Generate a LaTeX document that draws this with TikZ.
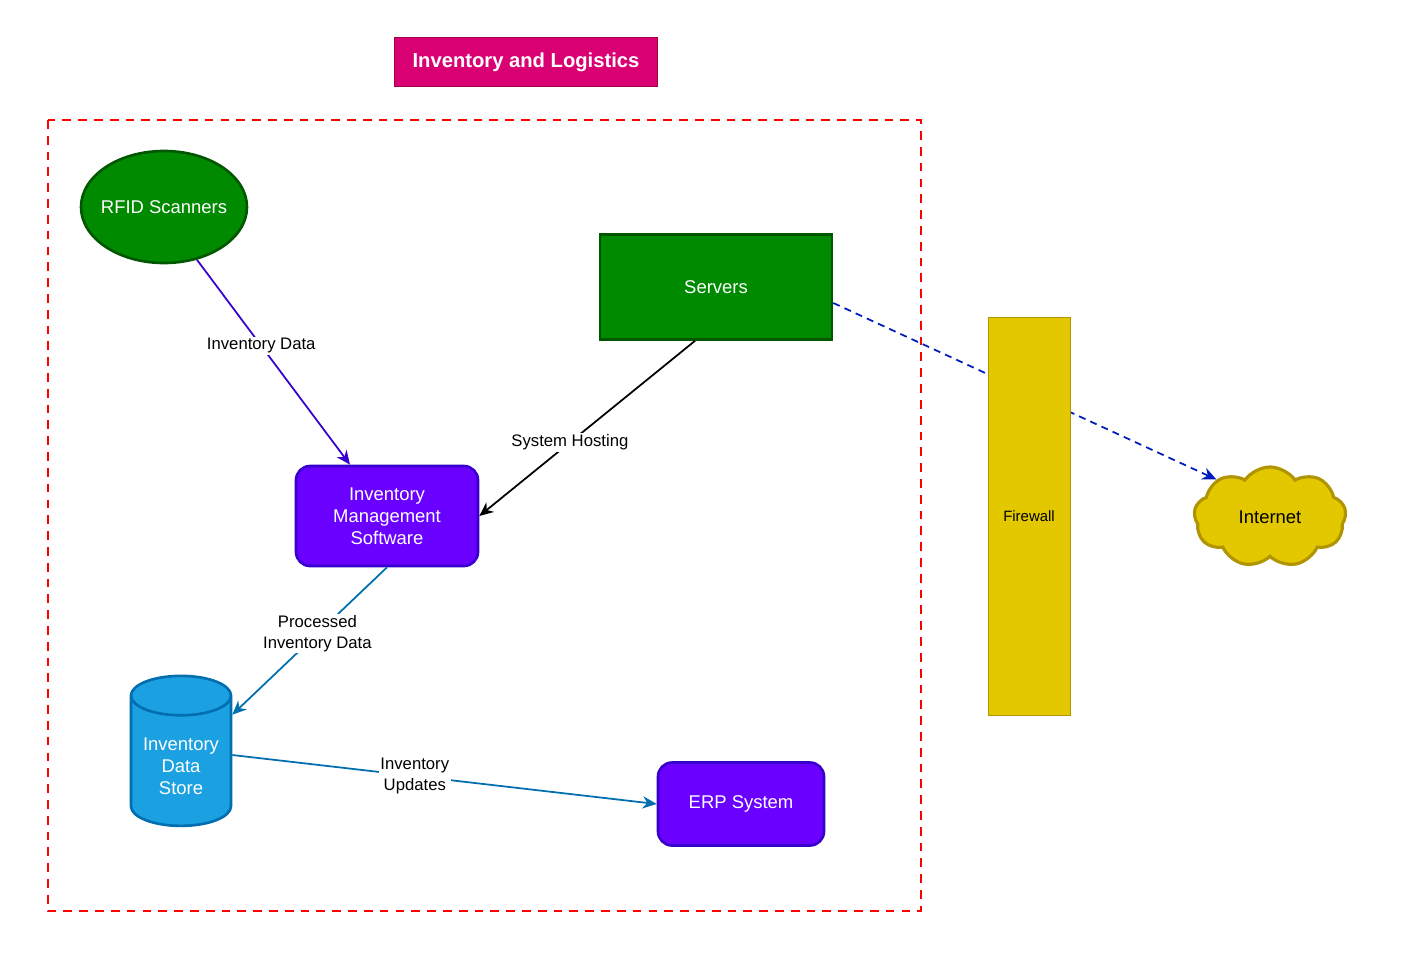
\documentclass[tikz,border=0pt]{standalone}
\usepackage{fontspec}
\setmainfont{Liberation Sans}
\usetikzlibrary{arrows.meta,positioning,shapes.geometric,shapes.symbols}
\definecolor{titlefill}{HTML}{D80073}
\definecolor{titledraw}{HTML}{A50040}
\definecolor{greenfill}{HTML}{008A00}
\definecolor{greendraw}{HTML}{005700}
\definecolor{violetfill}{HTML}{6A00FF}
\definecolor{violetdraw}{HTML}{3700CC}
\definecolor{bluefill}{HTML}{1BA1E2}
\definecolor{bluedraw}{HTML}{006EAF}
\definecolor{yellowfill}{HTML}{E3C800}
\definecolor{yellowdraw}{HTML}{B09500}
\definecolor{netblue}{HTML}{001DBC}
\tikzset{
  box/.style={draw, line width=1.5pt, align=center, text=white, font=\fontsize{10.5}{12.5}\selectfont},
  lbl/.style={fill=white, inner sep=1pt, align=center, text=black, font=\fontsize{9.5}{11.5}\selectfont},
  link/.style={line width=1pt, -{Stealth[length=8pt,width=7pt]}}
}
\begin{document}
\begin{tikzpicture}[x=0.02cm, y=-0.02cm]
	\useasboundingbox (0,0) rectangle (1416,974);
	
	\node[draw=titledraw, fill=titlefill, text=white, font=\fontsize{11.5}{13}\selectfont\bfseries, minimum width=263*0.02cm, minimum height=49*0.02cm] (title) at (526,62) {Inventory and Logistics};
	
	\draw[red, dashed, line width=1.2pt, dash pattern=on 5pt off 4pt] (48,120) rectangle (921,911);
	
	\node[box, ellipse, inner sep=0pt, inner xsep=-10pt, fill=greenfill, draw=greendraw, minimum width=166*0.02cm, minimum height=112*0.02cm] (rfid) at (164,207) {RFID Scanners};
	
	\node[box, rectangle, fill=greenfill, draw=greendraw, minimum width=232*0.02cm, minimum height=105*0.02cm] (servers) at (716,287) {Servers};
	
	\node[box, rectangle, rounded corners=8pt, fill=violetfill, draw=violetdraw, minimum width=182*0.02cm, minimum height=100*0.02cm] (ims) at (387,516) {Inventory\\Management\\Software};
	
	\node[box, cylinder, shape border rotate=90, aspect=0.45, fill=bluefill, draw=bluedraw, minimum width=100*0.02cm, minimum height=150*0.02cm] (store) at (181,766) {Inventory\\Data\\Store};
	
	\node[box, rectangle, rounded corners=8pt, fill=violetfill, draw=violetdraw, minimum width=166*0.02cm, minimum height=83*0.02cm] (erp) at (741,804) {ERP System};
	
	\node[draw=yellowdraw, line width=1.8pt, cloud, cloud puffs=9, cloud puff arc=110, aspect=1.6, fill=yellowfill, text=black, font=\fontsize{10.5}{12.5}\selectfont, minimum width=152*0.02cm, minimum height=100*0.02cm] (internet) at (1270,517) {Internet};
	
	\draw[link, netblue, dashed, dash pattern=on 4pt off 3pt] (servers.east |- 0,303) -- (internet.145);
	
	\node[draw=yellowdraw, fill=yellowfill, font=\fontsize{8.5}{10}\selectfont, minimum width=82*0.02cm, minimum height=398*0.02cm] (firewall) at (1029,516) {Firewall};
	
	\draw[link, violetdraw] (rfid.-58) -- node[lbl, pos=0.42] {Inventory Data} (ims.north -| 350,0);
	\draw[link, black] (servers.south -| 695,0) -- node[lbl, pos=0.58] {System Hosting} (ims.east);
	\draw[link, bluedraw] (ims.south) -- node[lbl, pos=0.45] {Processed\\Inventory Data} (store.45);
	\draw[link, bluedraw] (store.east |- 0,755) -- node[lbl, pos=0.43] {Inventory\\Updates} (erp.west);
\end{tikzpicture}
\end{document}
